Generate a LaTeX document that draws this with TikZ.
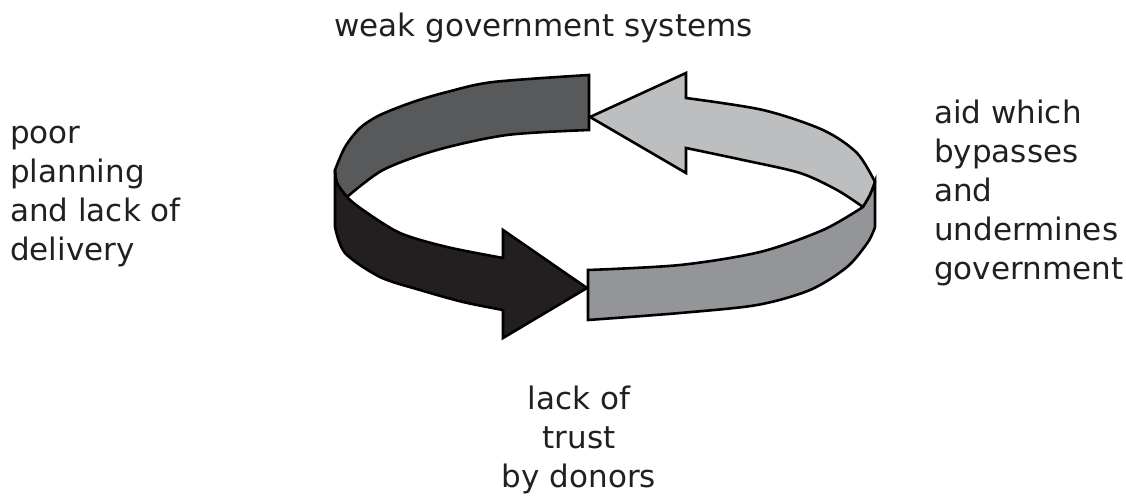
\documentclass[tikz,border=0pt]{standalone}
\usepackage{fontspec}
\setmainfont{DejaVu Sans}
\begin{document}
\definecolor{inkdark}{HTML}{231F20}
\definecolor{bandblack}{HTML}{231F20}
\definecolor{banddark}{HTML}{58595B}
\definecolor{bandlight}{HTML}{BCBEC0}
\definecolor{bandmid}{HTML}{939598}
\begin{tikzpicture}[x=1pt,y=-1pt,
  band/.style={draw=black,line width=2.6pt,line join=miter},
  label/.style={text=inkdark,inner sep=0pt,font=\fontsize{31}{39}\selectfont}]
\useasboundingbox (0,0) rectangle (1126,503);

% back-left inner face of the ring
\path[band,fill=banddark]
  plot[smooth] coordinates {(589,75) (493,82) (447,92) (413,102) (380,115) (360,128) (345,147) (335,170)}
  -- plot[smooth] coordinates {(335,170) (337,183) (347,197)}
  -- plot[smooth] coordinates {(347,197) (383,170) (437,150) (507,135) (589,130)}
  -- cycle;

% back-right inner face, ending in the left-pointing arrow head
\path[band,fill=bandlight]
  plot[smooth] coordinates {(686,98) (763,110) (823,130) (857,153) (875,182)}
  -- plot[smooth] coordinates {(875,182) (870,195) (863,207)}
  -- plot[smooth] coordinates {(863,207) (837,190) (800,173) (743,160) (686,148)}
  -- (686,173) -- (590,117) -- (686,73) -- cycle;

% front-right outer face
\path[band,fill=bandmid]
  plot[smooth] coordinates {(588,270) (680,265) (760,252) (823,230) (863,207)}
  -- plot[smooth] coordinates {(863,207) (870,195) (875,182)}
  -- (875,227)
  -- plot[smooth] coordinates {(875,227) (868,242) (847,267) (810,290) (757,305) (680,313) (588,320)}
  -- cycle;

% front-left outer face, ending in the right-pointing arrow head
\path[band,fill=bandblack]
  plot[smooth] coordinates {(335,170) (337,183) (347,197) (363,210) (400,233) (447,247) (503,258)}
  -- (503,230) -- (587,288) -- (503,338)
  -- plot[smooth] coordinates {(503,310) (463,302) (420,290) (380,277) (345,253) (335,227)}
  -- cycle;

\node[label,anchor=base] (top) at (543.5,37) {weak government systems};
\node[label,anchor=north west,align=left] (left) at (10,126)
  {poor\\planning\\and lack of\\delivery};
\node[label,anchor=north west,align=left] (right) at (934,100)
  {aid which\\bypasses\\and\\undermines\\government};
\node[label,anchor=north,align=center] (bottom) at (579,386)
  {lack of\\trust\\by donors};
\end{tikzpicture}
\end{document}
